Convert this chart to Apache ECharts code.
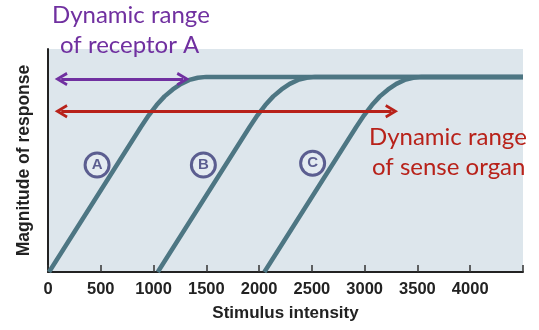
<!DOCTYPE html>
<html>
<head>
<meta charset="utf-8">
<script src="https://cdn.jsdelivr.net/npm/echarts@6/dist/echarts.min.js"></script>
<style>
  html, body { margin: 0; padding: 0; background: #ffffff; }
  #chart { width: 539px; height: 330px; }
</style>
</head>
<body>
<div id="chart"></div>
<script>
// Response curves: [stimulus intensity, magnitude of response]
const receptorA = [[10, 0], [880, 5.2], [954, 5.62], [1029, 5.99], [1104, 6.30], [1182, 6.55], [1260, 6.75], [1339, 6.89], [1419, 6.97], [1500, 7], [4500, 7]];
const receptorB = [[1040, 0], [1910, 5.2], [1984, 5.62], [2059, 5.99], [2134, 6.30], [2212, 6.55], [2290, 6.75], [2369, 6.89], [2449, 6.97], [2530, 7], [4500, 7]];
const receptorC = [[2050, 0], [2920, 5.2], [2994, 5.62], [3069, 5.99], [3144, 6.30], [3222, 6.55], [3300, 6.75], [3379, 6.89], [3459, 6.97], [3540, 7], [4500, 7]];

// Curve tags: [x, y, letter]
const curveTags = [[465, 3.84, 'A'], [1472, 3.84, 'B'], [2507, 3.9, 'C']];

// Dynamic range arrows: [from x, to x, y]
const receptorRange = [125, 1280, 6.92];
const organRange = [125, 3255, 5.77];

const xTicks = [0, 500, 1000, 1500, 2000, 2500, 3000, 3500, 4000];

const curveColor = '#4d7683';
const purple = '#7030a0';
const red = '#b8221a';
const tagColor = '#3a3b78';
// chevron arrowhead pointing up (markLine rotates it along the line)
const chevron = 'path://M0,9 L5,0 L10,9 L8.2,10 L5,4.2 L1.8,10 Z';

function curve(name, data) {
  return {
    name, type: 'line', data, showSymbol: false, smooth: false,
    lineStyle: { color: curveColor, width: 4.5, join: 'round' },
    z: 3, silent: true
  };
}

const chart = echarts.init(document.getElementById('chart'), null, { renderer: 'canvas' });
chart.setOption({
  animation: false,
  grid: {
    left: 48, right: 16, top: 49, bottom: 58,
    show: true, backgroundColor: '#dde6ec', borderWidth: 0
  },
  xAxis: {
    type: 'value', min: 0, max: 4500, interval: 500,
    name: 'Stimulus intensity', nameLocation: 'middle', nameGap: 33,
    nameTextStyle: { fontFamily: 'Liberation Sans', fontWeight: 'bold', fontSize: 17, color: '#222' },
    axisLine: { lineStyle: { color: '#222', width: 2 } },
    axisTick: { inside: true, length: 7, lineStyle: { color: '#333', width: 1.5 } },
    axisLabel: {
      margin: 9, fontFamily: 'Liberation Sans', fontWeight: 'bold', fontSize: 16.5, color: '#222',
      formatter: v => xTicks.includes(v) ? String(v) : ''
    },
    splitLine: { show: false }
  },
  yAxis: {
    type: 'value', min: 0, max: 8,
    name: 'Magnitude of response', nameLocation: 'middle', nameGap: 15,
    nameTextStyle: { fontFamily: 'Liberation Sans', fontWeight: 'bold', fontSize: 17.5, color: '#222' },
    axisLine: { show: true, lineStyle: { color: '#222', width: 2 } },
    axisTick: { show: false }, axisLabel: { show: false }, splitLine: { show: false }
  },
  series: [
    curve('A', receptorA),
    curve('B', receptorB),
    curve('C', receptorC),
    {
      type: 'scatter', data: curveTags, symbol: 'circle', symbolSize: 24, z: 4, silent: true,
      itemStyle: { color: '#e6ecf2', borderColor: tagColor, borderWidth: 3 },
      label: {
        show: true, position: 'inside', formatter: p => p.data[2],
        fontFamily: 'Liberation Sans', fontWeight: 'bold', fontSize: 15, color: tagColor
      }
    },
    {
      type: 'line', data: [], silent: true,
      markLine: {
        silent: true, symbol: [chevron, chevron], symbolSize: [14, 13],
        label: { show: false },
        data: [
          [{ coord: [receptorRange[0], receptorRange[2]], lineStyle: { color: purple, width: 3, type: 'solid' }, itemStyle: { color: purple } },
           { coord: [receptorRange[1], receptorRange[2]] }],
          [{ coord: [organRange[0], organRange[2]], lineStyle: { color: red, width: 3, type: 'solid' }, itemStyle: { color: red } },
           { coord: [organRange[1], organRange[2]] }]
        ]
      }
    }
  ],
  graphic: [
    { type: 'text', left: 52, top: 3, style: { text: 'Dynamic range', fill: purple, font: '24px Lato' } },
    { type: 'text', left: 60, top: 33, style: { text: 'of receptor A', fill: purple, font: '24px Lato' } },
    { type: 'text', left: 369, top: 125, style: { text: 'Dynamic range', fill: red, font: '24px Lato' } },
    { type: 'text', left: 372, top: 155, style: { text: 'of sense organ', fill: red, font: '24px Lato' } }
  ]
});
</script>
</body>
</html>
